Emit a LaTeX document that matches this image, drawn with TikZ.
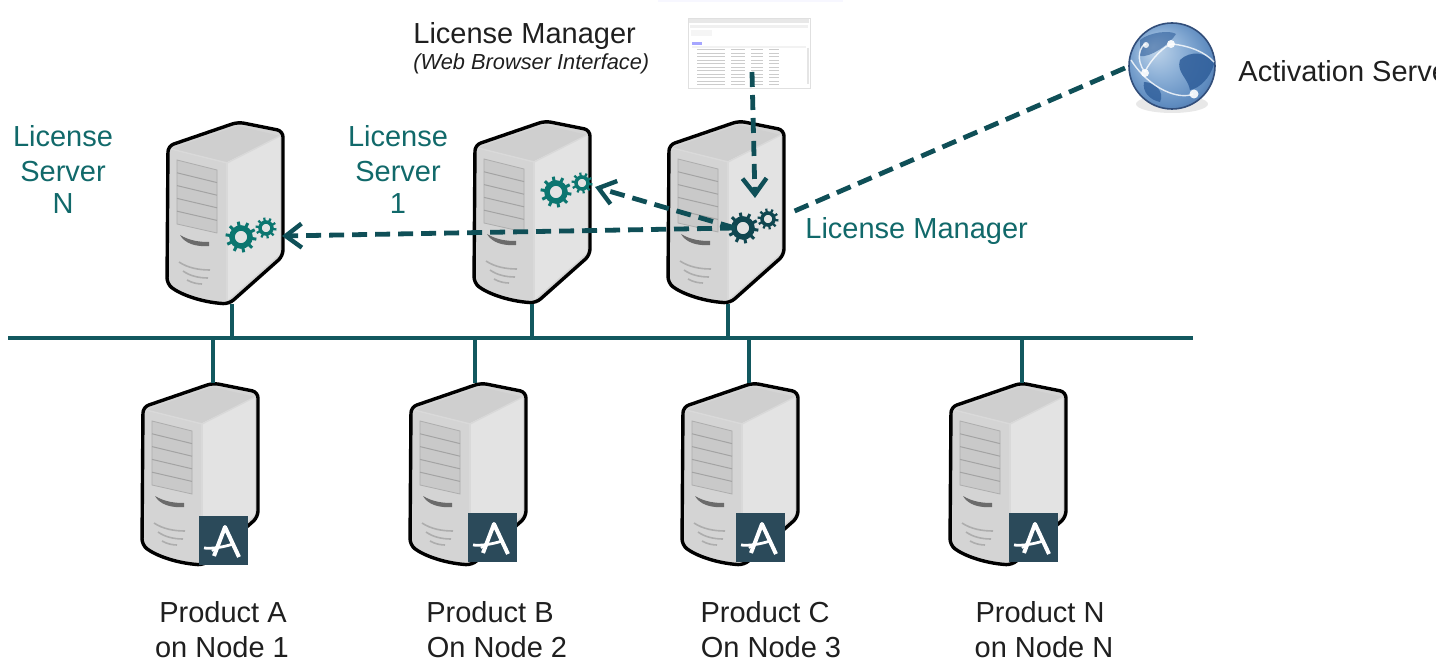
\documentclass[tikz,border=0pt]{standalone}
\usepackage{fontspec}
\setmainfont{Liberation Sans}
\usetikzlibrary{arrows.meta}
\definecolor{bus}{HTML}{12585F}
\definecolor{dash}{HTML}{0F4F57}
\definecolor{gearteal}{HTML}{0B7670}
\definecolor{geardark}{HTML}{0F4650}
\definecolor{labelteal}{HTML}{11696A}
\definecolor{badge}{HTML}{2B4A5A}
\definecolor{land}{HTML}{2F5E9A}
\definecolor{globeA}{HTML}{C4D8EC}
\definecolor{globeB}{HTML}{8FB2D8}
\definecolor{globeC}{HTML}{5F8CC0}
\definecolor{globeD}{HTML}{3F6298}
\pgfdeclareradialshading{globeshade}{\pgfpoint{-0.4cm}{0.4cm}}{
  color(0cm)=(globeA);
  color(0.45cm)=(globeB);
  color(0.9cm)=(globeC);
  color(1.2cm)=(globeD)}
\tikzset{
  x=0.5pt,y=-0.5pt,
  lbl/.style={inner sep=0pt,font=\fontsize{14.5}{16}\selectfont,text=black!88},
  tlbl/.style={lbl,text=labelteal},
  buswire/.style={draw=bus,line width=2pt},
  dashwire/.style={draw=dash,line width=2.4pt,dash pattern=on 7.5pt off 4pt},
  dasharrow/.style={dashwire,-{Straight Barb[length=8pt,width=12pt,line width=2.2pt]}},
  pics/serverbox/.style={code={
    \fill[black!17] (143,407) -- (213,383) -- (258,392) -- (258,517) -- (204,565) .. controls (175,563) and (155,555) .. (142,545) -- cycle;
    \fill[black!11] (202,423) -- (255,397) -- (255,515) -- (202,562) -- cycle;
    \fill[black!19] (146,410) -- (213,387) -- (255,397) -- (202,423) -- cycle;
    \draw[white!85!black,line width=0.7pt] (146,410) -- (202,424) -- (255,397);
    \draw[white!85!black,line width=0.7pt] (202,424) -- (202,563);
    \fill[black!21,draw=black!32,line width=0.4pt] (152,421) -- (192,431) -- (192,494) -- (152,485) -- cycle;
    \foreach \k in {1,2,3,4}{\draw[black!36,line width=0.5pt] (152,421+\k*12.8) -- (192,431+\k*12.6);}
    \fill[black!58] (155,496) .. controls (165,502) and (175,503) .. (184,503) -- (184,507) .. controls (172,508) and (160,505) .. (155,496) -- cycle;
    \draw[black!32,line width=0.8pt] (154,523) .. controls (163,529) and (174,531) .. (185,531);
    \draw[black!32,line width=0.8pt] (158,532) .. controls (165,537) and (174,539) .. (183,539);
    \draw[black!32,line width=0.8pt] (162,541) .. controls (167,544) and (173,545) .. (177,545);
    \draw[black,line width=1.7pt,line join=round,rounded corners=3pt]
      (143,407) -- (213,383) -- (258,392) -- (258,517) -- (204,565) .. controls (175,563) and (155,555) .. (142,545) -- cycle;
  }},
  pics/gearwheel/.style args={#1/#2/#3/#4/#5}{code={
    \draw[#4,line width=#3*0.5pt] (0,0) circle[radius=#1];
    \foreach \a in {0,36,...,324}{
      \draw[#4,line width=#5,line cap=butt] (\a+8:#1) -- (\a+8:#2);
    }
  }},
  pics/badgeA/.style={code={
    \fill[badge] (199,516) rectangle (248,565);
    \draw[white,line width=2pt,line join=round] (214,556) -- (225,527) -- (239,557);
    \draw[white,line width=1.4pt] (204,548) .. controls (212,549) and (224,547) .. (233,544);
    \draw[white,line width=1pt] (212,551) -- (218,546);
  }}
}
\begin{document}
\begin{tikzpicture}
\useasboundingbox (0,0) rectangle (1436,663);
\clip (0,0) rectangle (1436,663);

% bus
\coordinate (busL) at (8,338);
\coordinate (busR) at (1193,338);

% servers
\pic at (25,-261) {serverbox};
\pic at (332,-262) {serverbox};
\pic at (526,-262) {serverbox};
\pic at (0,0) {serverbox};
\pic at (268,0) {serverbox};
\pic at (540,0) {serverbox};
\pic at (808,0) {serverbox};
\pic at (0,0) {badgeA};
\pic at (269,-3) {badgeA};
\pic at (537,-3) {badgeA};
\pic at (810,-3) {badgeA};

% anchor points on servers
\coordinate (srvNb) at (232,304);
\coordinate (srvOneb) at (532,304);
\coordinate (srvMb) at (728,304);
\coordinate (prodA) at (213,383);
\coordinate (prodB) at (475,383);
\coordinate (prodC) at (749,383);
\coordinate (prodN) at (1022,383);
\coordinate (tapNu) at (232,338);
\coordinate (tapOneu) at (532,338);
\coordinate (tapMu) at (728,338);
\coordinate (tapA) at (213,338);
\coordinate (tapB) at (475,338);
\coordinate (tapC) at (749,338);
\coordinate (tapN) at (1022,338);
\draw[buswire] (busL) -- (busR);
\foreach \p/\q in {srvNb/tapNu,srvOneb/tapOneu,srvMb/tapMu,tapA/prodA,tapB/prodB,tapC/prodC,tapN/prodN}{
  \draw[buswire] (\p) -- (\q);
}

% screenshot
\fill[blue!3] (658,0) rectangle (843,2);
\node[draw=black!12,fill=white,line width=0.4pt,minimum width=61pt,minimum height=35pt,inner sep=0pt] (shot) at (749,53) {};
\fill[black!9] (689,19) rectangle (809,23);
\fill[black!6] (690,25) rectangle (808,28);
\fill[black!4] (691,30) rectangle (712,36);
\fill[blue!35] (692,42) rectangle (702,45);
\fill[black!5] (692,46) rectangle (806,48);
\foreach \r in {50,53.5,...,86}{
  \draw[black!20,line width=0.5pt,dash pattern=on 14pt off 3pt on 7pt off 3pt on 6pt off 3pt on 5pt off 30pt] (697,\r) -- (805,\r);
}
\draw[black!10,line width=0.8pt] (808,48) -- (808,84);

% globe
\fill[black!30,opacity=0.3] (1172,104) ellipse (36 and 9);
\shade[shading=globeshade] (1172,66) circle (43);
\draw[globeD!80!black,line width=0.8pt] (1172,66) circle (43);
\fill[land,opacity=0.85] (1180,60) .. controls (1190,50) and (1208,52) .. (1214,64) .. controls (1210,78) and (1200,88) .. (1190,90) .. controls (1188,78) and (1176,72) .. (1180,60) -- cycle;
\fill[land,opacity=0.8] (1144,82) .. controls (1155,82) and (1165,92) .. (1160,102) .. controls (1150,100) and (1142,92) .. (1144,82) -- cycle;
\fill[land,opacity=0.6] (1140,40) .. controls (1150,32) and (1170,30) .. (1176,34) .. controls (1170,44) and (1150,58) .. (1140,56) -- cycle;
\draw[white,opacity=0.8,line width=0.7pt] (1131,60) .. controls (1150,90) and (1180,100) .. (1193,94);
\draw[white,opacity=0.8,line width=0.7pt] (1145,72) .. controls (1150,60) and (1165,45) .. (1172,44);
\draw[white,opacity=0.8,line width=0.7pt] (1172,44) .. controls (1190,46) and (1205,52) .. (1214,62);
\draw[white,opacity=0.8,line width=0.7pt] (1145,72) .. controls (1135,60) and (1140,45) .. (1146,44);
\fill[white,opacity=0.9] (1171,44) circle (4);
\fill[white,opacity=0.9] (1145,73) circle (4);
\fill[white,opacity=0.9] (1194,94) circle (4.5);
\fill[white,opacity=0.8] (1146,45) circle (3);
\coordinate (globe) at (1125,68);

% gears
\pic at (241,237) {gearwheel={9/15.5/5.5/gearteal/1.5pt}};
\pic at (266,228) {gearwheel={6/10.5/3.5/gearteal/1.1pt}};
\pic at (556,192) {gearwheel={9/15.5/5.5/gearteal/1.5pt}};
\pic at (582,183) {gearwheel={6/10.5/3.5/gearteal/1.1pt}};
\pic at (743,228) {gearwheel={9/15.5/5.5/geardark/1.5pt}};
\pic at (768,219) {gearwheel={6/10.5/3.5/geardark/1.1pt}};

% connectors
\coordinate (shotout) at (752,72);
\coordinate (mgrtop) at (755,198);
\coordinate (mgrgear) at (735,228);
\coordinate (oneGear) at (595,187);
\coordinate (nGear) at (282,236);
\coordinate (mgrright) at (790,213);
\draw[dashwire] (globe) -- (mgrright);
\draw[dasharrow] (shotout) -- (mgrtop);
\draw[dasharrow] (mgrgear) -- (oneGear);
\draw[dasharrow] (mgrgear) -- (nGear);

% labels
\node[tlbl,align=center,text width=60pt] (lsN) at (63,169.5) {\baselineskip=17.2pt License\\Server\\N};
\node[tlbl,align=center,text width=60pt] (lsOne) at (398,169.5) {\baselineskip=17.2pt License\\Server\\1};
\node[lbl,anchor=base west] (lmTop) at (413,44) {License Manager};
\node[lbl,anchor=base west,font=\fontsize{10.9}{13}\selectfont\itshape] (lmSub) at (413,70) {(Web Browser Interface)};
\node[lbl,anchor=base west] (act) at (1238,82) {Activation Server};
\node[tlbl,anchor=base west] (lmTeal) at (805,239) {License Manager};
\node[lbl,anchor=base] (pA) at (223,622) {Product A};
\node[lbl,anchor=base] (nA) at (222,657) {on Node 1};
\node[lbl,anchor=base] (pB) at (490,622) {Product B};
\node[lbl,anchor=base] (nB) at (497,657) {On Node 2};
\node[lbl,anchor=base] (pC) at (765,622) {Product C};
\node[lbl,anchor=base] (nC) at (771,657) {On Node 3};
\node[lbl,anchor=base] (pN) at (1040,622) {Product N};
\node[lbl,anchor=base] (nN) at (1044,657) {on Node N};
\end{tikzpicture}
\end{document}
